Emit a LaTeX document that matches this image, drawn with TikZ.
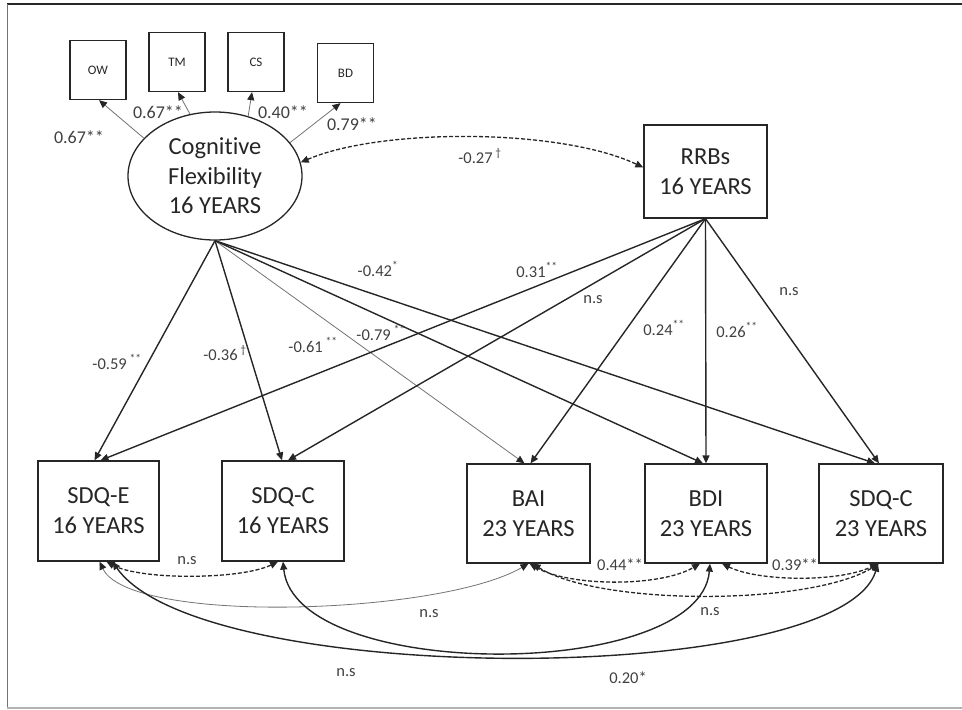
\documentclass[tikz,border=0pt]{standalone}
\usepackage{fontspec}
\setmainfont{Carlito}[Ligatures=NoCommon]
\usetikzlibrary{arrows.meta,shapes.geometric}
\begin{document}
\begin{tikzpicture}[x=1pt,y=-1pt,
  bigbox/.style={draw=black!85, line width=1.3pt, inner sep=0pt, align=center, text=black!85, font=\fontsize{24.5}{30}\selectfont},
  smallbox/.style={draw=black!85, line width=1.3pt, minimum width=56pt, minimum height=59pt, inner sep=0pt, text=black!85, font=\fontsize{13}{15}\selectfont},
  lab/.style={text=black!75, font=\fontsize{16.5}{19}\selectfont, inner sep=0pt},
  toplab/.style={text=black!75, font=\fontsize{18}{21}\selectfont, inner sep=0pt},
  conn/.style={draw=black!85, line width=1.4pt, -{Triangle[length=8pt,width=7pt]}},
  faint/.style={draw=black!55, line width=0.8pt, -{Triangle[length=8pt,width=7pt,color=black!85]}},
  faintcov/.style={draw=black!55, line width=0.8pt, {Triangle[length=8pt,width=7pt,color=black!85]}-{Triangle[length=8pt,width=7pt,color=black!85]}},
  cov/.style={draw=black!85, line width=1.4pt, {Triangle[length=8pt,width=7pt]}-{Triangle[length=8pt,width=7pt]}},
  dcov/.style={draw=black!85, line width=1.3pt, dash pattern=on 4pt off 2pt, {Triangle[length=8pt,width=7pt]}-{Triangle[length=8pt,width=7pt]}},
]
\useasboundingbox (0,0) rectangle (962,710);
% frame
\draw[black!85, line width=1.6pt] (962,4) -- (7,4);
\draw[black!55, line width=1pt] (7,4) -- (7,708);
\draw[black!30, line width=1.2pt] (7,708) -- (962,708);

% indicator boxes
\node[smallbox] (ow) at (98,70) {OW};
\node[smallbox] (tm) at (177,62) {TM};
\node[smallbox] (cs) at (256,62) {CS};
\node[smallbox] (bd) at (345.5,73) {BD};

% latent
\node[ellipse, draw=black!85, line width=1.3pt, minimum width=174pt, minimum height=128pt, inner sep=0pt, align=center, text=black!85, font=\fontsize{24.5}{29.5}\selectfont] (cf) at (215,176) {Cognitive\\Flexibility\\16 YEARS};

\node[bigbox, minimum width=123pt, minimum height=93pt] (rrb) at (705.5,171.5) {RRBs\\16 YEARS};

\node[bigbox, minimum width=121pt, minimum height=100pt] (sdqe) at (98.5,511) {SDQ-E\\16 YEARS};
\node[bigbox, minimum width=122pt, minimum height=100pt] (sdqc) at (283,511) {SDQ-C\\16 YEARS};
\node[bigbox, minimum width=123pt, minimum height=99pt] (bai) at (528.5,513.5) {BAI\\23 YEARS};
\node[bigbox, minimum width=122pt, minimum height=99pt] (bdi) at (706,513.5) {BDI\\23 YEARS};
\node[bigbox, minimum width=124pt, minimum height=99pt] (sdqct) at (881,513.5) {SDQ-C\\23 YEARS};

% loadings
\draw[faint] (cf.152) -- ([xshift=1pt]ow.south);
\draw[faint] (cf.112) -- ([xshift=1pt]tm.south);
\draw[faint] (cf.61) -- ([xshift=-4pt]cs.south);
\draw[faint] (cf.24) -- ([xshift=-5pt]bd.south);
\node[toplab] (l1) at (79,137) {0.67**};
\node[toplab] (l2) at (158,112) {0.67**};
\node[toplab] (l3) at (283,112) {0.40**};
\node[toplab] (l4) at (352,124) {0.79**};

% covariance CF - RRBs
\draw[dcov] (cf.9) .. controls (380,128) and (560,128) .. ([yshift=4pt]rrb.west);
\node[lab] (l5) at (480,156) {-0.27\,\textsuperscript{\textdagger}};

% paths from CF
\coordinate (cfs) at (cf.south);
\draw[conn] (cfs) -- ([xshift=-4pt]sdqe.north);
\draw[conn] (cfs) -- ([xshift=-1pt]sdqc.north);
\draw[faint] (cfs) -- ([xshift=-4pt]bai.north);
\draw[conn] (cfs) -- ([xshift=-3pt]bdi.north);
\draw[conn] (cfs) -- ([xshift=-6pt]sdqct.north);

% paths from RRBs
\coordinate (rrs) at (rrb.south);
\draw[conn] (rrs) -- ([xshift=2pt]sdqe.north);
\draw[conn] (rrs) -- ([xshift=5pt]sdqc.north);
\draw[conn] (rrs) -- ([xshift=2pt]bai.north);
\draw[conn] (rrs) -- (bdi.north);
\draw[conn] (rrs) -- ([xshift=-2pt]sdqct.north);

\node[lab] (l6) at (117,362) {-0.59\,\textsuperscript{**}};
\node[lab] (l7) at (225,353) {-0.36\,\textsuperscript{\textdagger}};
\node[lab] (l8) at (313,345) {-0.61\,\textsuperscript{**}};
\node[lab] (l9) at (381,333) {-0.79\,\textsuperscript{**}};
\node[lab] (l10) at (378,269) {-0.42\textsuperscript{*}};
\node[lab] (l11) at (537,270) {0.31\textsuperscript{**}};
\node[lab] (l12) at (593,300) {n.s};
\node[lab] (l13) at (664,328) {0.24\textsuperscript{**}};
\node[lab] (l14) at (737,330) {0.26\textsuperscript{**}};
\node[lab] (l15) at (789,292) {n.s};

% residual covariances
\draw[dcov] ([xshift=8pt]sdqe.south) .. controls (140,580) and (240,580) .. ([xshift=-5pt]sdqc.south);
\draw[faintcov] ([xshift=1pt]sdqe.south) .. controls (130,625) and (440,615) .. ([xshift=0pt]bai.south);
\draw[cov] ([xshift=14pt]sdqe.south) .. controls (200,688) and (840,688) .. ([xshift=-3pt]sdqct.south);
\draw[cov] (sdqc.south) .. controls (295,682) and (700,682) .. ([xshift=4pt]bdi.south);
\draw[dcov] ([xshift=1pt]bai.south) .. controls (570,587) and (660,587) .. ([xshift=-6pt]bdi.south);
\draw[dcov] ([xshift=16pt]bdi.south) .. controls (760,582) and (840,582) .. ([xshift=-3pt]sdqct.south);
\draw[dcov] ([xshift=4pt]bai.south) .. controls (600,606) and (810,606) .. ([xshift=-2pt]sdqct.south);

\node[lab] (l16) at (187,561) {n.s};
\node[lab] (l17) at (429,614) {n.s};
\node[lab] (l18) at (346,673) {n.s};
\node[lab] (l19) at (620,565) {0.44**};
\node[lab] (l20) at (795,565) {0.39**};
\node[lab] (l21) at (710,612) {n.s};
\node[lab] (l22) at (628,678) {0.20*};
\end{tikzpicture}
\end{document}
